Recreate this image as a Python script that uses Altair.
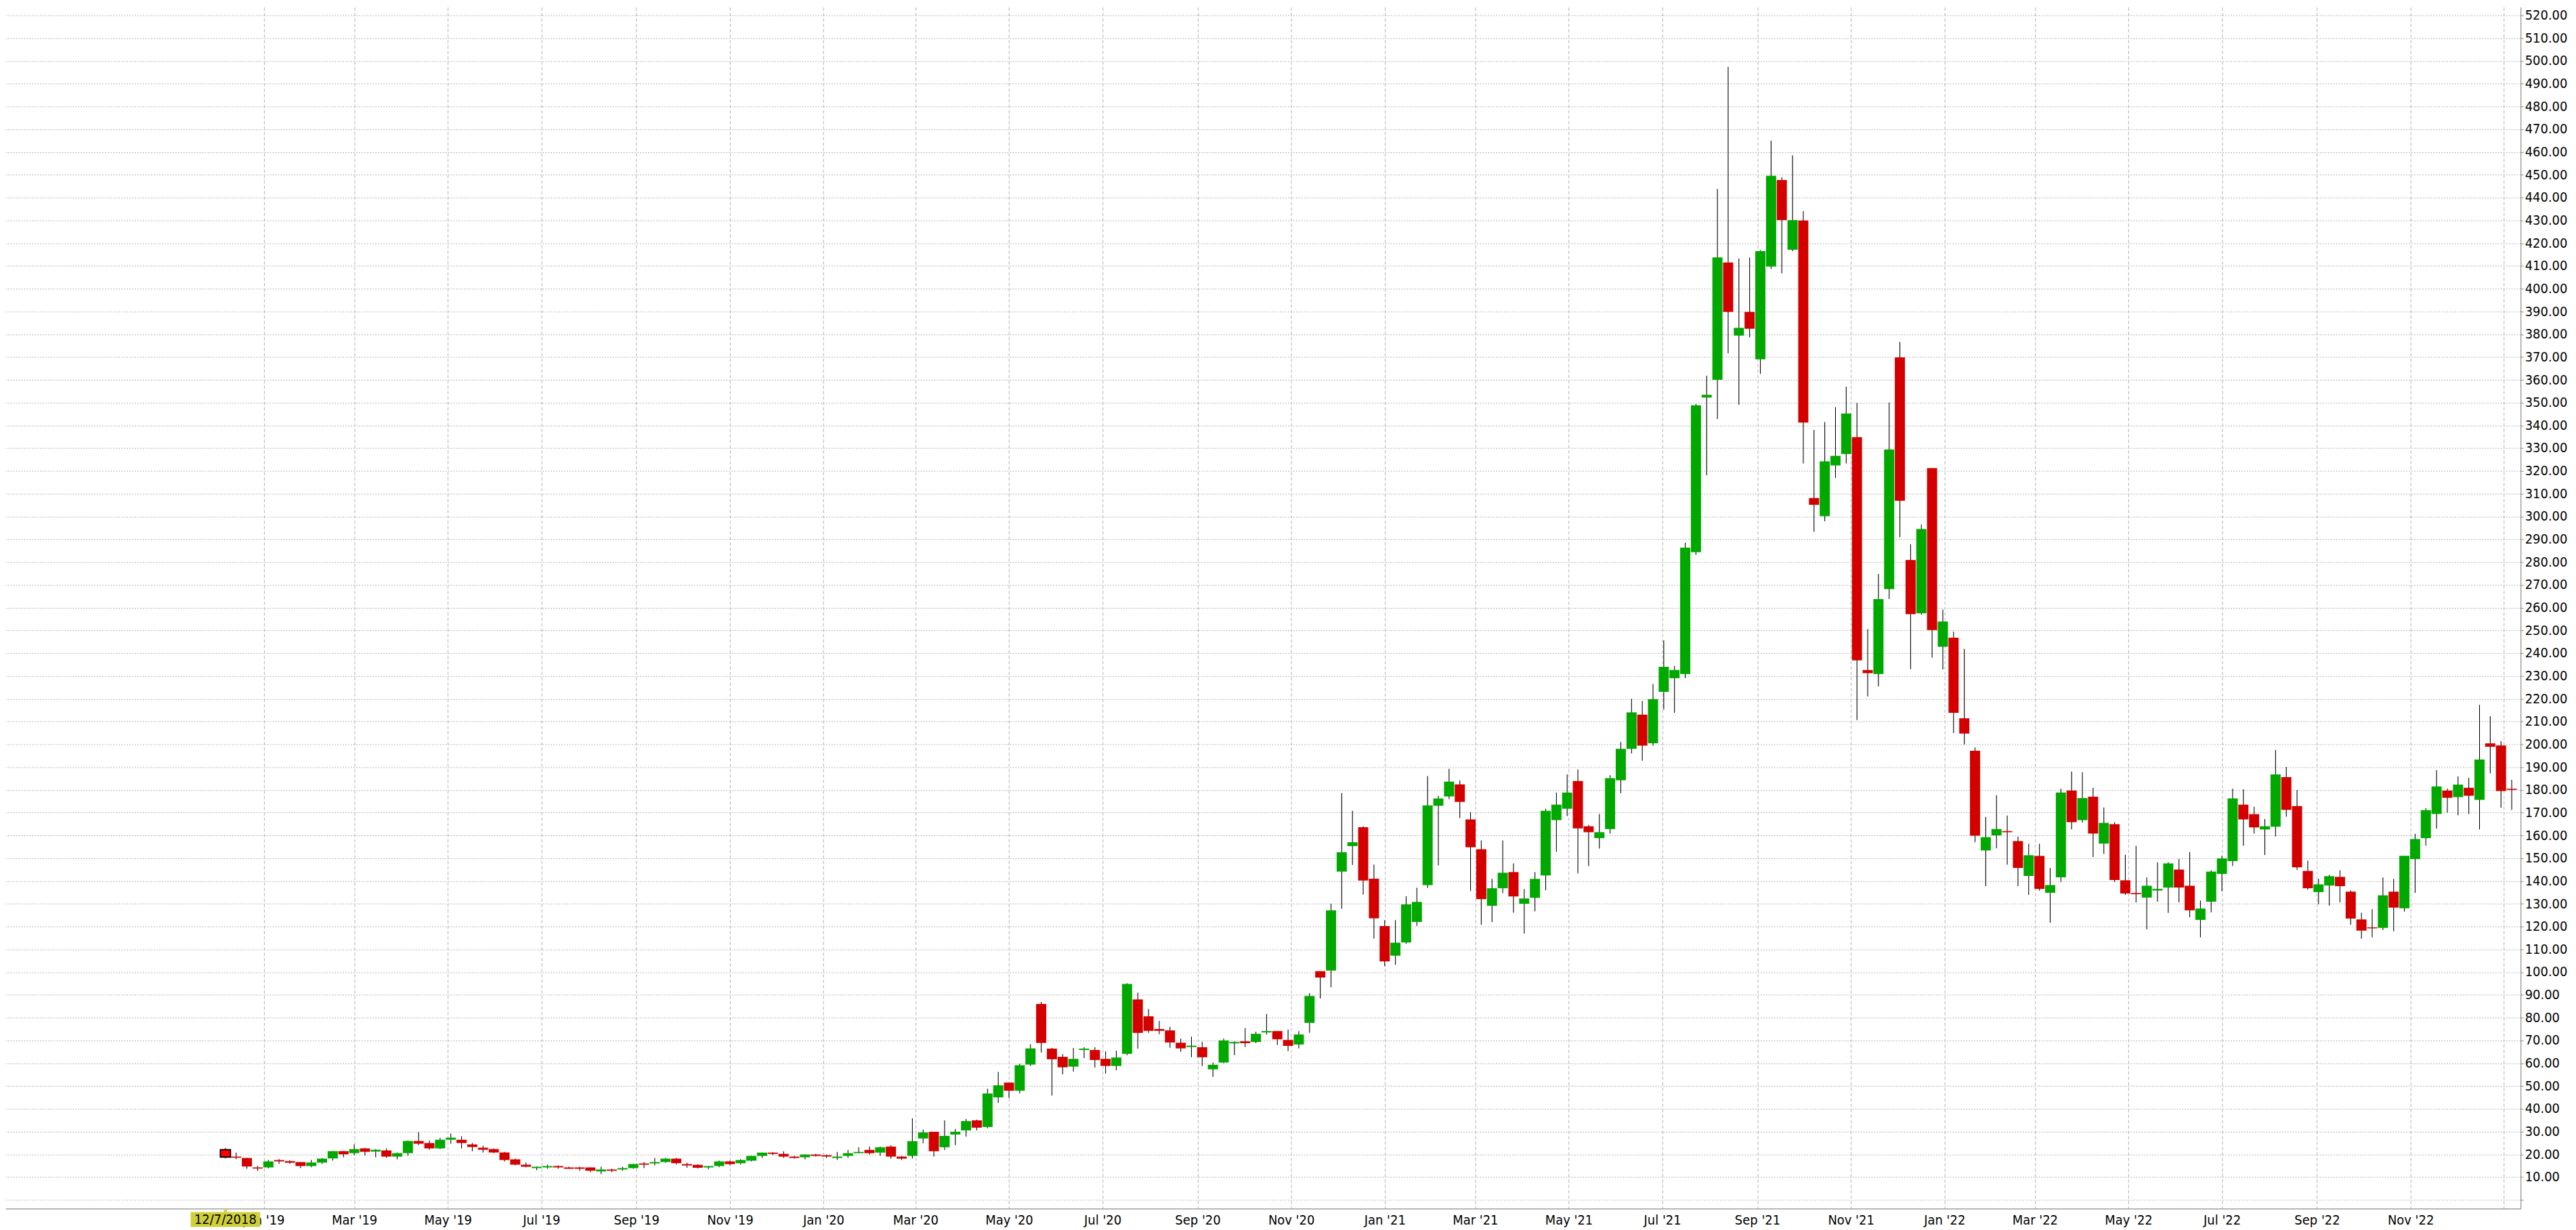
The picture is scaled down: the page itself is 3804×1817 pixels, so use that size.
import altair as alt
import pandas as pd

FIRST_WEEK = "2018-12-07"   # weekly candles, one per Friday

opens = [22.0, 19.0, 18.4, 14.25, 14.25, 17.5, 17.0, 16.6, 14.85, 16.35,
         18.2, 21.4, 20.5, 22.6, 21.2, 21.7, 19.0, 20.5, 25.85, 24.95,
         22.6, 26.4, 26.4, 24.35, 22.9, 22.3, 20.8, 17.8, 15.45, 13.95,
         14.25, 14.85, 14.25, 14.25, 14.25, 12.5, 13.35, 13.35, 13.95, 16.0,
         16.0, 16.6, 18.1, 15.7, 15.4, 14.25, 14.85, 16.9, 16.1, 17.2,
         19.3, 20.75, 20.2, 19.0, 18.7, 19.9, 19.6, 18.4, 19.3, 20.5,
         21.95, 20.75, 23.4, 19.0, 19.3, 26.95, 29.9, 23.1, 28.7, 30.5,
         34.9, 32.0, 45.0, 51.5, 47.9, 59.4, 86.0, 66.4, 62.8, 58.5,
         65.8, 65.8, 61.9, 58.8, 64.1, 88.0, 80.6, 75.0, 74.4, 69.0,
         67.1, 67.0, 57.3, 60.3, 68.7, 69.6, 69.3, 73.5, 74.1, 70.2,
         68.2, 77.7, 100.4, 100.7, 144.1, 155.3, 163.6, 141.0, 120.2, 107.2,
         113.0, 122.0, 138.2, 173.0, 177.1, 182.4, 167.0, 153.95, 129.1, 136.8,
         143.9, 130.0, 132.6, 142.4, 166.7, 171.7, 183.9, 164.0, 158.8, 162.8,
         184.2, 198.0, 213.0, 200.4, 223.0, 229.0, 230.8, 284.3, 352.2, 360.0,
         411.5, 379.4, 389.8, 369.0, 409.7, 447.7, 417.1, 429.9, 308.1, 300.1,
         322.4, 327.4, 334.8, 232.6, 230.8, 268.1, 369.8, 280.9, 257.5, 321.2,
         242.8, 246.8, 211.4, 197.2, 153.4, 160.0, 161.9, 157.5, 142.2, 151.0,
         134.8, 141.6, 179.7, 166.7, 177.0, 156.4, 164.9, 140.3, 134.7, 132.7,
         135.8, 137.1, 145.0, 137.9, 122.9, 130.9, 143.1, 148.7, 173.5, 169.3,
         162.6, 163.8, 185.6, 172.9, 144.4, 135.1, 138.0, 141.8, 135.3, 123.1,
         119.6, 119.4, 135.3, 128.0, 149.6, 158.8, 169.4, 179.7, 176.8, 180.9,
         175.6, 200.4, 199.5, 180.5]

highs = [22.8, 20.8, 18.4, 14.85, 17.5, 17.9, 17.4, 16.6, 17.5, 18.4,
         21.4, 21.4, 24.35, 22.9, 22.3, 22.6, 20.8, 26.1, 29.7, 26.1,
         27.3, 29.1, 27.9, 24.95, 23.8, 22.6, 21.1, 18.1, 16.35, 14.55,
         15.45, 15.15, 14.55, 14.55, 14.25, 14.55, 13.65, 14.55, 15.75, 16.6,
         18.4, 18.4, 18.4, 16.3, 15.7, 14.85, 17.2, 17.2, 17.8, 19.3,
         20.75, 21.05, 21.35, 19.3, 19.9, 20.2, 19.9, 21.05, 21.95, 23.1,
         23.4, 23.4, 24.0, 19.3, 35.8, 30.8, 29.9, 34.9, 31.1, 35.5,
         35.2, 48.8, 56.2, 51.5, 59.7, 68.3, 86.9, 66.7, 64.0, 66.7,
         67.0, 67.0, 65.2, 65.5, 95.1, 91.0, 83.8, 78.5, 75.9, 70.8,
         71.7, 69.3, 60.3, 70.8, 69.6, 75.4, 73.8, 81.6, 74.1, 74.7,
         74.1, 90.7, 100.4, 130.0, 178.6, 170.8, 164.0, 147.2, 122.8, 122.8,
         133.3, 137.1, 186.0, 177.4, 189.2, 184.2, 170.2, 157.8, 140.9, 157.8,
         147.7, 136.5, 143.9, 171.7, 178.8, 186.8, 188.9, 164.6, 169.4, 186.5,
         201.0, 220.0, 219.0, 226.4, 245.6, 234.4, 288.5, 349.4, 361.8, 443.7,
         497.4, 413.3, 413.7, 416.9, 465.0, 448.9, 458.5, 434.1, 338.0, 341.4,
         348.0, 357.0, 349.8, 250.5, 274.7, 350.0, 376.6, 287.9, 296.5, 321.2,
         259.1, 249.5, 241.9, 198.6, 168.1, 177.6, 168.7, 159.4, 156.3, 156.3,
         145.7, 180.5, 188.0, 187.7, 180.9, 172.3, 165.8, 151.5, 155.4, 141.5,
         148.1, 148.2, 149.6, 152.7, 131.4, 144.7, 151.0, 180.5, 180.2, 172.6,
         167.2, 197.5, 190.0, 179.9, 148.9, 140.9, 142.7, 144.7, 135.9, 126.1,
         127.6, 141.5, 140.9, 151.0, 160.7, 172.0, 188.6, 180.6, 185.9, 185.3,
         217.3, 212.3, 201.3, 184.4]

lows = [18.2, 17.8, 13.7, 12.8, 13.85, 15.8, 15.8, 14.0, 14.35, 15.75,
        17.2, 18.7, 19.6, 19.4, 18.7, 18.4, 17.8, 19.3, 24.05, 22.0,
        22.3, 24.65, 22.6, 21.4, 20.8, 20.5, 16.9, 15.15, 14.25, 13.05,
        13.65, 13.65, 13.65, 12.8, 12.2, 11.3, 12.2, 12.8, 13.65, 13.95,
        15.15, 16.35, 15.5, 14.1, 13.8, 13.45, 14.35, 15.2, 15.5, 16.9,
        18.4, 19.6, 18.4, 18.1, 17.8, 19.0, 18.4, 17.5, 18.4, 20.5,
        19.9, 19.3, 18.1, 17.5, 18.1, 24.9, 19.0, 21.95, 24.0, 27.8,
        30.5, 31.4, 42.6, 44.7, 46.7, 58.8, 64.7, 45.8, 55.1, 56.3,
        62.2, 58.1, 55.4, 56.9, 63.5, 66.4, 73.3, 72.7, 66.8, 65.0,
        62.6, 58.8, 54.0, 60.0, 63.5, 67.1, 68.8, 72.6, 68.0, 65.3,
        66.5, 73.3, 88.4, 93.3, 127.8, 147.0, 134.0, 114.7, 102.6, 103.2,
        112.4, 120.3, 136.9, 146.8, 175.9, 167.6, 135.6, 120.8, 121.95, 134.7,
        126.1, 116.9, 126.7, 135.9, 152.8, 168.5, 143.3, 146.5, 154.2, 160.8,
        178.5, 196.0, 192.8, 199.4, 215.2, 213.8, 229.0, 283.1, 318.1, 342.8,
        371.6, 349.0, 378.6, 362.6, 408.7, 406.7, 416.5, 323.2, 293.3, 297.9,
        316.9, 323.2, 210.6, 221.0, 225.4, 263.7, 290.9, 233.0, 256.9, 238.0,
        232.8, 205.0, 199.9, 157.0, 137.7, 154.3, 147.2, 137.7, 133.9, 135.7,
        121.7, 139.6, 162.6, 165.6, 150.5, 151.9, 139.5, 133.9, 130.6, 118.8,
        130.9, 126.0, 130.6, 124.1, 115.2, 126.2, 135.4, 146.6, 155.5, 160.8,
        151.4, 159.6, 168.2, 144.8, 136.2, 129.8, 129.2, 130.6, 120.8, 114.6,
        115.2, 118.4, 117.9, 126.5, 134.8, 155.5, 163.0, 170.0, 168.8, 169.4,
        162.6, 187.2, 172.1, 171.2]

closes = [18.8, 18.5, 14.65, 13.75, 16.9, 16.9, 16.3, 14.85, 16.4, 18.1,
          21.4, 20.0, 22.3, 21.1, 22.0, 19.0, 20.5, 25.85, 24.65, 22.6,
          26.4, 27.3, 24.95, 23.2, 22.0, 20.8, 17.5, 15.45, 14.55, 14.55,
          14.85, 14.25, 13.65, 13.65, 12.8, 13.35, 12.8, 13.95, 15.75, 15.45,
          16.6, 18.1, 16.1, 15.1, 14.1, 14.85, 16.9, 15.7, 17.5, 19.3,
          20.75, 20.2, 19.0, 18.4, 19.9, 19.3, 19.0, 19.0, 20.5, 21.05,
          20.5, 23.1, 19.0, 18.1, 25.8, 29.6, 21.35, 28.1, 29.9, 34.6,
          31.7, 46.7, 50.3, 47.9, 59.1, 66.5, 68.9, 61.7, 58.2, 61.9,
          66.4, 61.4, 58.8, 62.5, 94.8, 73.3, 74.2, 74.2, 69.1, 66.5,
          67.7, 62.6, 59.3, 70.0, 69.3, 68.8, 72.9, 74.1, 70.5, 67.6,
          72.6, 89.5, 97.6, 127.1, 152.6, 157.0, 140.2, 123.6, 104.7, 112.9,
          129.7, 130.8, 173.2, 176.2, 183.6, 174.7, 154.8, 132.0, 136.8, 143.6,
          133.2, 132.3, 140.9, 170.8, 173.5, 178.8, 163.1, 161.4, 161.4, 185.1,
          198.0, 214.0, 199.4, 219.8, 234.0, 232.6, 286.3, 348.8, 353.4, 413.7,
          389.8, 382.8, 382.4, 416.5, 449.5, 430.1, 430.1, 341.2, 305.1, 324.2,
          326.6, 345.2, 236.8, 231.2, 263.7, 329.4, 306.9, 257.1, 294.5, 250.1,
          253.9, 213.8, 204.7, 159.9, 159.2, 162.8, 161.4, 145.7, 151.3, 136.5,
          138.2, 178.8, 165.8, 176.4, 160.8, 165.5, 140.4, 134.5, 134.2, 137.9,
          136.5, 147.7, 137.1, 127.1, 127.9, 144.1, 149.9, 176.2, 167.0, 163.5,
          164.0, 186.8, 171.2, 146.0, 136.8, 138.5, 142.1, 137.7, 123.5, 118.2,
          119.2, 133.7, 128.3, 151.0, 158.4, 171.1, 181.5, 176.5, 182.3, 177.4,
          193.3, 198.9, 179.5, 180.0]

y_ticks = list(range(0, 530, 10))
x_tick_months = [(y, m) for y in range(2019, 2023) for m in (1, 3, 5, 7, 9, 11)] + [(2023, 1)]

dates = pd.date_range(FIRST_WEEK, periods=len(opens), freq="7D")
df = pd.DataFrame({
    "date": dates.strftime("%Y-%m-%d"),
    "open": opens, "high": highs, "low": lows, "close": closes,
})
df["dir"] = ["up" if c >= o else "down" for o, c in zip(opens, closes)]
df["label"] = [f"{d.month}/{d.day}/{d.year}" for d in dates]
df["sel"] = [1] + [0] * (len(opens) - 1)

FONT = "DejaVu Sans Condensed, DejaVu Sans, sans-serif"
ms = lambda s: int(pd.Timestamp(s, tz="UTC").value // 10**6)

x_scale = alt.Scale(type="utc", domain=[ms("2018-07-18 17:30"), ms("2023-01-09 14:25")], nice=False)
y_scale = alt.Scale(domain=[-3.85, 523.56], nice=False, zero=False)

x_axis = alt.Axis(
    values=[alt.DateTime(year=y, month=m, date=1, utc=True) for y, m in x_tick_months],
    labelExpr="utcyear(datum.value) >= 2023 ? '' : utcFormat(datum.value, \"%b '%y\")",
    grid=True, gridColor="#b4b4b4", gridDash=[5, 3], gridWidth=1,
    ticks=False, domain=True, domainColor="#8c8c8c", domainWidth=1.2,
    labelFont=FONT, labelFontSize=20, labelColor="#000000", labelPadding=7,
    labelOverlap=False, labelFlush=False, title=None,
)
y_axis = alt.Axis(
    orient="right", values=y_ticks, tickCount=53,
    labelExpr="datum.value == 0 ? '' : format(datum.value, '.2f')",
    grid=True, gridColor="#b4b4b4", gridDash=[2, 2], gridWidth=1,
    ticks=True, tickSize=4, tickColor="#8c8c8c",
    domain=True, domainColor="#8c8c8c", domainWidth=1.2,
    labelFont=FONT, labelFontSize=20, labelColor="#000000", labelPadding=2,
    labelOverlap=False, labelFlush=False, title=None,
)

def X():
    return alt.X("date:T", scale=x_scale, axis=x_axis)

def Y(field):
    return alt.Y(field, type="quantitative", scale=y_scale, axis=y_axis)

base = alt.Chart(df)

wicks = base.mark_rule(color="#000000", strokeWidth=1.1).encode(
    x=X(), y=Y("low"), y2="high:Q",
)

bodies = base.mark_bar(size=15).encode(
    x=X(), y=Y("open"), y2="close:Q",
    color=alt.Color("dir:N", scale=alt.Scale(domain=["up", "down"], range=["#00a800", "#d40000"]), legend=None),
)

first = base.transform_filter(alt.datum.sel == 1)

selected = first.mark_bar(size=15, color="#ff0000", stroke="#000000", strokeWidth=1.8).encode(
    x=X(), y=Y("open"), y2="close:Q",
)

tag_box = first.mark_bar(size=103, color="#cfcf3a", clip=False).encode(
    x=X(), y=alt.value(1785), y2=alt.value(1807),
)
tag_arrow = first.mark_point(shape="triangle-up", filled=True, size=40, color="#cfcf3a", opacity=1, clip=False).encode(
    x=X(), y=alt.value(1782),
)
tag_text = first.mark_text(font=FONT, fontSize=20, color="#000000", baseline="middle", align="center", clip=False).encode(
    x=X(), y=alt.value(1797), text="label:N",
)

chart = alt.layer(wicks, bodies, selected, tag_box, tag_arrow, tag_text).properties(
    width=3725, height=1780,
).configure(
    padding={"left": 0, "top": 0, "right": 5, "bottom": 0},
    background="#ffffff",
).configure_view(
    strokeWidth=0,
)

chart.save("out.html", embed_options={"renderer": "svg", "actions": False})
